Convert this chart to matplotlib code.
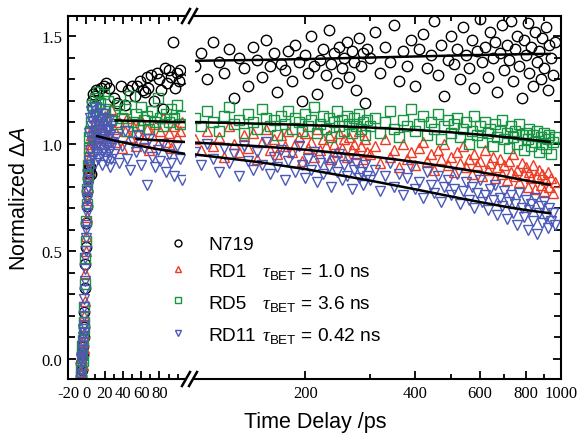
import matplotlib
matplotlib.use('Agg')
import matplotlib.pyplot as plt
from matplotlib.lines import Line2D
from matplotlib.ticker import FixedLocator, FixedFormatter, MultipleLocator, NullFormatter

plt.rcParams['font.family'] = 'Liberation Sans'
plt.rcParams['mathtext.fontset'] = 'custom'
plt.rcParams['mathtext.rm'] = 'Liberation Sans'
plt.rcParams['mathtext.it'] = 'Liberation Sans:italic'
plt.rcParams['mathtext.bf'] = 'Liberation Serif:italic'
plt.rcParams['axes.unicode_minus'] = False

# ---------------- data ----------------
names = ['N719', 'RD1', 'RD5', 'RD11']
taus = ['', r'$\mathbf{\tau}_{\mathrm{BET}}$ = 1.0 ns',
        r'$\mathbf{\tau}_{\mathrm{BET}}$ = 3.6 ns',
        r'$\mathbf{\tau}_{\mathrm{BET}}$ = 0.42 ns']

# left panel (-20 .. ~105 ps, linear)
rise_t = [-6, -5.5, -5, -4.5, -4, -3.5, -3, -2.5, -2, -1.5, -1, -0.5, 0, 0.5, 1,
          1.5, 2, 2.5, 3, 3.5, 4, 5]
n719_t_left = rise_t + [6, 7, 9, 11, 13, 16, 19, 22, 25, 30, 34, 38, 42, 46, 50, 53, 56,
                        59, 62, 64, 66, 68, 71, 74, 77, 80, 82, 84, 86, 88, 91, 93, 95,
                        97, 99, 101, 103, 105]
n719_left = [-0.08, -0.02, 0.03, -0.05, 0.06, 0.02, 0.10, 0.15, 0.22, 0.33, 0.44, 0.52,
             0.63, 0.71, 0.78, 0.84, 0.88, 0.86, 0.90, 0.87, 0.89, 0.86,
             1.20, 1.23, 1.22, 1.25, 1.24, 1.26, 1.27, 1.28, 1.26, 1.21, 1.19, 1.27, 1.18,
             1.25, 1.27, 1.22, 1.27, 1.29, 1.25, 1.24, 1.31, 1.26, 1.32, 1.20, 1.33, 1.30,
             1.25, 1.16, 1.35, 1.28, 1.34, 1.31, 1.47, 1.26, 1.33, 1.29, 1.34, 1.30]

post_t = [6, 7, 9, 11, 13, 15, 17, 19, 21, 24, 27, 30, 33, 36, 39, 42, 45, 48, 51, 54,
          57, 60, 63, 66, 69, 72, 75, 78, 81, 84, 87, 90, 93, 96, 99, 102, 105]
rd1_t_left = rise_t + post_t
rd1_left = [-0.06, 0.01, -0.09, 0.04, -0.03, 0.08, 0.05, 0.12, 0.20, 0.27, 0.40, 0.50,
            0.57, 0.66, 0.74, 0.80, 0.86, 0.88, 0.93, 0.97, 1.00, 1.04,
            1.02, 1.08, 1.05, 1.11, 1.03, 1.09, 1.00, 1.06, 1.13, 1.04, 1.16, 1.07, 1.01,
            1.10, 0.98, 1.06, 1.12, 1.03, 1.08, 0.99, 1.05, 1.11, 1.02, 1.07, 0.97, 1.04,
            1.09, 1.00, 1.06, 1.12, 1.01, 1.05, 0.98, 1.08, 1.03, 1.06, 1.10]
rd5_t_left = rise_t + post_t
rd5_left = [-0.04, -0.08, 0.02, 0.06, -0.01, 0.09, 0.14, 0.17, 0.24, 0.35, 0.47, 0.55,
            0.64, 0.72, 0.79, 0.85, 0.90, 0.94, 0.98, 1.03, 1.06, 1.10,
            1.18, 1.15, 1.21, 1.17, 1.24, 1.19, 1.14, 1.23, 1.16, 1.20, 1.11, 1.15, 1.09,
            1.18, 1.12, 1.16, 1.06, 1.22, 1.10, 1.14, 1.08, 1.17, 1.11, 1.13, 1.07, 1.15,
            1.10, 1.21, 1.12, 1.08, 1.14, 1.10, 1.16, 1.12, 1.18, 1.09, 1.13]
rd11_t_left = [-6, -5.75, -5.5, -5.25, -5, -4.75, -4.5, -4.25, -4, -3.75, -3.5, -3.25,
               -3, -2.75, -2.5, -2.25, -2, -1.75, -1.5, -1.25, -1, -0.75, -0.5, -0.25,
               0, 0.25, 0.5, 0.75, 1, 1.25, 1.5, 1.75, 2, 2.5,
               3, 3.5, 4, 4.5, 5, 5.5, 6, 6.5, 7, 7.5, 8, 8.5, 9, 9.5, 10, 10.5, 11, 11.5,
               12, 12.5, 13, 13.5, 14, 14.5, 15, 15.5, 16, 16.5, 17, 17.5, 18, 18.5, 19,
               19.5, 20, 20.5, 21, 21.5, 22, 22.5, 23, 23.5, 24, 24.5, 25, 25.5, 26, 26.5,
               27, 27.5, 28,
               30, 33, 36, 39, 42, 45, 48, 51, 54, 57, 60, 63, 66, 69, 72, 75, 78, 81, 84,
               87, 90, 93, 96, 99, 102, 105]
rd11_left = [-0.09, -0.05, 0.00, -0.07, 0.03, -0.02, 0.06, 0.01, 0.10, 0.04, 0.14, 0.08,
             0.12, 0.20, 0.16, 0.28, 0.24, 0.36, 0.32, 0.42, 0.47, 0.50, 0.56, 0.60, 0.62,
             0.68, 0.70, 0.74, 0.75, 0.78, 0.80, 0.83, 0.86, 0.90,
             0.92, 1.05, 1.12, 0.97, 1.08, 1.15, 1.01, 0.94, 1.10, 1.03,
             1.17, 0.99, 1.06, 0.91, 1.13, 1.04, 0.96, 1.09, 1.14, 1.00,
             0.93, 1.07, 1.11, 0.98, 1.16, 1.02, 0.95, 1.10, 1.05, 0.90,
             1.12, 1.01, 1.08, 0.97, 1.14, 1.03, 0.94, 1.06, 1.10, 0.99,
             0.92, 1.07, 1.02, 0.96, 1.11, 0.89, 1.04, 0.98, 1.08, 0.93, 1.01,
             0.95, 1.03, 0.91, 0.99, 1.06, 0.93, 0.88, 1.01, 0.96, 1.04,
             0.90, 0.98, 0.81, 1.02, 0.94, 0.89, 0.97, 0.92, 1.00, 0.87,
             0.95, 0.91, 0.85, 0.99, 0.93, 0.83]

# right panel (100 .. 1000 ps, log)
t_right = [100, 104, 108, 112, 116, 120, 124, 128, 132, 136, 140, 144, 148, 152, 156,
           160, 164, 168, 172, 176, 180, 184, 188, 192, 196, 200, 204, 208, 212, 216,
           220, 224, 228, 232, 236, 240, 244, 248, 252, 256, 260, 264, 268, 272, 276,
           280, 284, 288, 292, 296,
           300, 310, 320, 330, 340, 350, 360, 370, 380, 390, 400, 410, 420, 430, 440,
           450, 460, 470, 480, 490, 500, 510, 520, 530, 540, 550, 560, 570, 580, 590,
           600, 610, 620, 630, 640, 650, 660, 670, 680, 690, 700, 710, 720, 730, 740,
           750, 760, 770, 780, 790, 800, 810, 820, 830, 840, 850, 860, 870, 880, 890,
           900, 910, 920, 930, 940, 950, 960]
n719_right = [1.36, 1.42, 1.30, 1.47, 1.38, 1.33, 1.44, 1.21, 1.40, 1.35,
              1.27, 1.45, 1.39, 1.31, 1.48, 1.36, 1.42, 1.24, 1.37, 1.34,
              1.43, 1.29, 1.46, 1.38, 1.20, 1.41, 1.33, 1.50, 1.36, 1.23,
              1.39, 1.44, 1.32, 1.53, 1.37, 1.42, 1.28, 1.45, 1.35, 1.40,
              1.47, 1.31, 1.43, 1.38, 1.25, 1.49, 1.36, 1.42, 1.19, 1.44,
              1.40, 1.52, 1.33, 1.45, 1.38, 1.55, 1.29, 1.43, 1.36, 1.48,
              1.27, 1.44, 1.51, 1.35, 1.41, 1.57, 1.32, 1.46, 1.22, 1.39,
              1.50, 1.37, 1.44, 1.30, 1.54, 1.41, 1.35, 1.48, 1.26, 1.43,
              1.58, 1.38, 1.45, 1.31, 1.52, 1.40, 1.47, 1.24, 1.42, 1.55,
              1.34, 1.46, 1.39, 1.57, 1.29, 1.44, 1.50, 1.36, 1.21, 1.48,
              1.41, 1.56, 1.33, 1.45, 1.27, 1.52, 1.38, 1.43, 1.30, 1.49,
              1.35, 1.54, 1.25, 1.46, 1.40, 1.32, 1.47]
rd1_right = [1.02, 0.97, 1.06, 0.99, 1.03, 0.94, 1.08, 1.00, 0.96, 1.04,
             0.98, 1.05, 0.93, 1.01, 1.07, 0.97, 1.02, 0.95, 1.04, 0.99,
             1.06, 0.96, 1.00, 1.03, 0.92, 1.05, 0.98, 1.01, 0.94, 1.07,
             0.97, 1.02, 0.99, 1.04, 0.93, 1.00, 0.96, 1.05, 0.98, 1.02,
             0.94, 1.03, 0.97, 1.00, 0.95, 1.06, 0.99, 0.93, 1.02, 0.96,
             0.95, 0.99, 0.91, 1.02, 0.94, 0.97, 0.89, 1.00, 0.93, 0.96,
             0.90, 0.98, 1.01, 0.92, 0.95, 0.88, 0.97, 0.93, 1.00, 0.90,
             0.94, 0.87, 0.96, 0.91, 0.99, 0.89, 0.93, 0.86, 0.95, 0.90,
             0.92, 0.85, 0.97, 0.88, 0.91, 0.94, 0.84, 0.89, 0.93, 0.86,
             0.90, 0.83, 0.92, 0.87, 0.95, 0.85, 0.88, 0.82, 0.91, 0.86,
             0.89, 0.80, 0.87, 0.84, 0.90, 0.79, 0.85, 0.88, 0.81, 0.86,
             0.78, 0.83, 0.87, 0.80, 0.84, 0.77, 0.82]
rd5_right = [1.12, 1.08, 1.15, 1.10, 1.06, 1.13, 1.17, 1.09, 1.11, 1.05,
             1.14, 1.10, 1.07, 1.16, 1.12, 1.08, 1.11, 1.04, 1.13, 1.09,
             1.15, 1.07, 1.12, 1.10, 1.06, 1.14, 1.08, 1.11, 1.17, 1.05,
             1.09, 1.13, 1.07, 1.12, 1.03, 1.10, 1.15, 1.08, 1.11, 1.06,
             1.13, 1.09, 1.05, 1.12, 1.08, 1.14, 1.07, 1.10, 1.04, 1.11,
             1.08, 1.12, 1.05, 1.10, 1.15, 1.07, 1.03, 1.11, 1.08, 1.16,
             1.06, 1.09, 1.13, 1.04, 1.10, 1.07, 1.14, 1.02, 1.08, 1.11,
             1.05, 1.09, 1.12, 1.03, 1.07, 1.10, 1.00, 1.06, 1.13, 1.04,
             1.08, 1.01, 1.10, 1.05, 1.07, 0.99, 1.09, 1.03, 1.06, 1.11,
             1.02, 1.05, 0.98, 1.08, 1.03, 1.06, 1.00, 1.09, 1.04, 0.97,
             1.05, 1.02, 1.07, 0.99, 1.04, 1.01, 1.06, 0.96, 1.03, 1.00,
             1.05, 0.98, 1.02, 1.04, 0.95, 1.01, 1.03]
rd11_right = [0.96, 0.90, 1.00, 0.93, 0.87, 0.98, 0.91, 0.95, 0.85, 0.99,
              0.92, 0.88, 0.96, 0.90, 1.01, 0.86, 0.94, 0.89, 0.97, 0.83,
              0.92, 0.95, 0.87, 0.99, 0.90, 0.84, 0.93, 0.88, 0.96, 0.82,
              0.91, 0.86, 0.94, 0.89, 0.80, 0.92, 0.87, 0.95, 0.83, 0.90,
              0.85, 0.93, 0.79, 0.88, 0.91, 0.84, 0.87, 0.81, 0.90, 0.85,
              0.83, 0.88, 0.78, 0.85, 0.91, 0.80, 0.86, 0.76, 0.84, 0.89,
              0.79, 0.82, 0.75, 0.87, 0.81, 0.77, 0.85, 0.73, 0.80, 0.83,
              0.76, 0.79, 0.86, 0.72, 0.78, 0.82, 0.74, 0.80, 0.70, 0.77,
              0.83, 0.73, 0.76, 0.69, 0.79, 0.74, 0.81, 0.67, 0.75, 0.71,
              0.78, 0.65, 0.73, 0.76, 0.68, 0.72, 0.62, 0.77, 0.70, 0.66,
              0.74, 0.60, 0.69, 0.72, 0.64, 0.75, 0.58, 0.68, 0.71, 0.63,
              0.73, 0.66, 0.61, 0.70, 0.64, 0.68, 0.62]

# fitted decays (black lines)
fit_right_t = [100, 150, 200, 300, 400, 500, 600, 700, 800, 930]
fit_n719 = [1.385, 1.389, 1.393, 1.400, 1.405, 1.409, 1.412, 1.414, 1.416, 1.417]
fit_rd1 = [1.005, 0.988, 0.972, 0.942, 0.915, 0.890, 0.868, 0.848, 0.829, 0.810]
fit_rd5 = [1.100, 1.093, 1.087, 1.075, 1.064, 1.053, 1.042, 1.031, 1.021, 1.008]
fit_rd11 = [0.950, 0.914, 0.882, 0.829, 0.788, 0.755, 0.729, 0.708, 0.692, 0.677]
fit_rd1_left_t = [55, 108]
fit_rd1_left = [1.022, 1.008]
fit_rd5_left_t = [32, 108]
fit_rd5_left = [1.108, 1.100]
fit_rd11_left_t = [12, 30, 50, 70, 90, 108]
fit_rd11_left = [1.035, 1.015, 0.997, 0.981, 0.966, 0.953]

colors = ['black', '#ee3b24', '#189443', '#4a58b6']
markers = ['o', '^', 's', 'v']

# ---------------- figure ----------------
W, H = 579, 435
fig = plt.figure(figsize=(W / 100, H / 100), dpi=100)
axL = fig.add_axes([68 / W, 55 / H, 117 / W, 363 / H])
axR = fig.add_axes([195 / W, 55 / H, 366 / W, 363 / H])

lefts = [(n719_t_left, n719_left), (rd1_t_left, rd1_left),
         (rd5_t_left, rd5_left), (rd11_t_left, rd11_left)]
rights = [n719_right, rd1_right, rd5_right, rd11_right]
for (tl, yl), yr, c, m in zip(lefts, rights, colors, markers):
    kw = dict(ls='none', marker=m, ms=7.5, mfc='none', mec=c, mew=1.0)
    axL.plot(tl, yl, **kw)
    axR.plot(t_right, yr, **kw)

for fv in [fit_n719, fit_rd1, fit_rd5, fit_rd11]:
    axR.plot(fit_right_t, fv, color='black', lw=1.8, zorder=5)
axL.plot(fit_rd1_left_t, fit_rd1_left, color='black', lw=1.8, zorder=5)
axL.plot(fit_rd5_left_t, fit_rd5_left, color='black', lw=1.8, zorder=5)
axL.plot(fit_rd11_left_t, fit_rd11_left, color='black', lw=1.8, zorder=5)

ylim = (-0.093, 1.593)
axL.set_xlim(-20, 108)
axL.set_ylim(*ylim)
axR.set_xscale('log')
axR.set_xlim(100, 1000)
axR.set_ylim(*ylim)

for ax in (axL, axR):
    for s in ax.spines.values():
        s.set_linewidth(1.5)
    ax.yaxis.set_major_locator(MultipleLocator(0.5))
    ax.yaxis.set_minor_locator(MultipleLocator(0.1))
    ax.tick_params(which='both', direction='in', width=1.3, labelsize=12,
                   labelfontfamily='Liberation Serif', pad=4)
    ax.tick_params(which='major', length=6)
    ax.tick_params(which='minor', length=3.5)
    ax.tick_params(axis='y', which='minor', length=5)

axL.spines['right'].set_visible(False)
axL.xaxis.set_minor_locator(MultipleLocator(10))
axL.set_xticks([-20, 0, 20, 40, 60, 80])
axL.tick_params(which='both', top=True, right=False)
axL.set_yticks([0.0, 0.5, 1.0, 1.5])
axL.set_yticklabels(['0.0', '0.5', '1.0', '1.5'])

axR.spines['left'].set_visible(False)
axR.xaxis.set_major_locator(FixedLocator([200, 400, 600, 800, 1000]))
axR.xaxis.set_major_formatter(FixedFormatter(['200', '400', '600', '800', '1000']))
axR.xaxis.set_minor_locator(FixedLocator([300, 500, 700, 900]))
axR.xaxis.set_minor_formatter(NullFormatter())
axR.tick_params(which='both', left=False, labelleft=False, right=True, top=True)

# axis break marks
for yb in (17, 380):
    for x0 in (182, 189):
        fig.add_artist(Line2D([x0 / W, (x0 + 8) / W], [1 - (yb + 7) / H, 1 - (yb - 7) / H],
                              color='black', lw=1.8, transform=fig.transFigure))

fig.text(20 / W, 1 - 199 / H, r'Normalized $\Delta A$', rotation=90, ha='center',
         va='center', fontsize=15.5)
fig.text(315 / W, 1 - 423 / H, 'Time Delay /ps', ha='center', va='center', fontsize=15.5)

# legend drawn by hand
mark_y = [244, 270, 301, 334]
base_y = [250, 277, 309, 341]
for i in range(4):
    fig.add_artist(Line2D([178 / W], [1 - mark_y[i] / H], ls='none', marker=markers[i],
                          ms=5, mfc='none', mec=colors[i], mew=1.0,
                          transform=fig.transFigure))
    fig.text(208 / W, 1 - base_y[i] / H, names[i], fontsize=13.8, va='baseline')
    if taus[i]:
        fig.text(262 / W, 1 - base_y[i] / H, taus[i], fontsize=13.8, va='baseline')

fig.savefig('out.png', dpi=100)
